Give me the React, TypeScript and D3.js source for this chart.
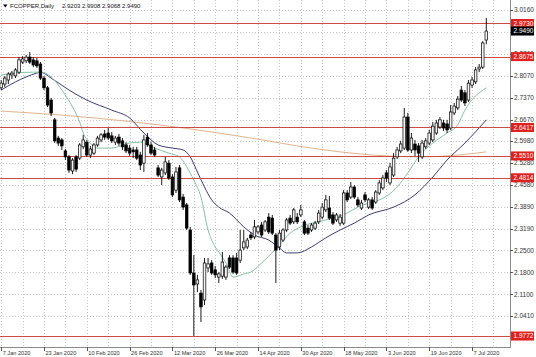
import React from "react";
import * as d3 from "d3";

const W = 536;
const H = 357;

const symbolName = "FCOPPER,Daily";
const ohlcText = ["2.9203", "2.9908", "2.9068", "2.9490"];

// [open, high, low, close] per daily bar, from 7 Jan 2020
const candles: [number, number, number, number][] = [
  [2.768, 2.793, 2.761, 2.783],
  [2.780, 2.806, 2.771, 2.799],
  [2.793, 2.818, 2.780, 2.812],
  [2.809, 2.822, 2.796, 2.815],
  [2.806, 2.831, 2.799, 2.825],
  [2.818, 2.866, 2.812, 2.857],
  [2.850, 2.869, 2.844, 2.860],
  [2.854, 2.873, 2.847, 2.866],
  [2.866, 2.882, 2.844, 2.850],
  [2.857, 2.866, 2.834, 2.841],
  [2.854, 2.863, 2.831, 2.838],
  [2.844, 2.850, 2.793, 2.799],
  [2.799, 2.806, 2.761, 2.768],
  [2.768, 2.774, 2.707, 2.713],
  [2.729, 2.736, 2.678, 2.688],
  [2.666, 2.672, 2.592, 2.599],
  [2.608, 2.615, 2.583, 2.592],
  [2.602, 2.608, 2.570, 2.583],
  [2.567, 2.573, 2.538, 2.548],
  [2.548, 2.554, 2.497, 2.506],
  [2.503, 2.544, 2.493, 2.538],
  [2.548, 2.554, 2.500, 2.509],
  [2.544, 2.592, 2.538, 2.586],
  [2.580, 2.618, 2.573, 2.602],
  [2.595, 2.602, 2.548, 2.554],
  [2.554, 2.583, 2.544, 2.573],
  [2.560, 2.592, 2.554, 2.586],
  [2.586, 2.615, 2.580, 2.608],
  [2.602, 2.624, 2.595, 2.618],
  [2.621, 2.634, 2.602, 2.611],
  [2.624, 2.640, 2.602, 2.608],
  [2.615, 2.627, 2.592, 2.599],
  [2.595, 2.615, 2.586, 2.608],
  [2.611, 2.621, 2.583, 2.592],
  [2.599, 2.608, 2.570, 2.580],
  [2.586, 2.595, 2.560, 2.567],
  [2.576, 2.586, 2.551, 2.560],
  [2.570, 2.580, 2.544, 2.564],
  [2.570, 2.580, 2.538, 2.544],
  [2.554, 2.564, 2.506, 2.522],
  [2.528, 2.618, 2.500, 2.602],
  [2.611, 2.624, 2.580, 2.586],
  [2.586, 2.595, 2.554, 2.560],
  [2.570, 2.580, 2.548, 2.554],
  [2.513, 2.522, 2.484, 2.490],
  [2.484, 2.513, 2.458, 2.506],
  [2.497, 2.548, 2.490, 2.532],
  [2.528, 2.538, 2.474, 2.481],
  [2.484, 2.493, 2.420, 2.427],
  [2.442, 2.516, 2.433, 2.500],
  [2.513, 2.522, 2.404, 2.411],
  [2.420, 2.430, 2.379, 2.388],
  [2.395, 2.401, 2.315, 2.321],
  [2.315, 2.325, 2.172, 2.178],
  [2.178, 2.235, 1.9772, 2.140],
  [2.143, 2.172, 2.117, 2.156],
  [2.114, 2.124, 2.022, 2.070],
  [2.092, 2.226, 2.076, 2.210],
  [2.194, 2.226, 2.181, 2.207],
  [2.210, 2.219, 2.172, 2.178],
  [2.188, 2.200, 2.162, 2.172],
  [2.165, 2.181, 2.146, 2.175],
  [2.168, 2.245, 2.159, 2.213],
  [2.165, 2.203, 2.156, 2.197],
  [2.226, 2.235, 2.191, 2.197],
  [2.226, 2.235, 2.175, 2.181],
  [2.226, 2.242, 2.172, 2.178],
  [2.219, 2.315, 2.210, 2.251],
  [2.258, 2.315, 2.251, 2.277],
  [2.261, 2.290, 2.254, 2.283],
  [2.299, 2.309, 2.283, 2.290],
  [2.293, 2.347, 2.286, 2.325],
  [2.309, 2.331, 2.302, 2.325],
  [2.331, 2.341, 2.293, 2.299],
  [2.315, 2.347, 2.309, 2.341],
  [2.356, 2.369, 2.302, 2.309],
  [2.353, 2.363, 2.299, 2.305],
  [2.299, 2.305, 2.146, 2.251],
  [2.261, 2.315, 2.251, 2.305],
  [2.283, 2.321, 2.277, 2.315],
  [2.315, 2.353, 2.309, 2.347],
  [2.353, 2.363, 2.331, 2.337],
  [2.341, 2.385, 2.334, 2.379],
  [2.356, 2.369, 2.334, 2.341],
  [2.363, 2.395, 2.356, 2.379],
  [2.341, 2.347, 2.299, 2.305],
  [2.321, 2.331, 2.299, 2.305],
  [2.315, 2.337, 2.309, 2.331],
  [2.321, 2.344, 2.315, 2.337],
  [2.341, 2.379, 2.334, 2.369],
  [2.356, 2.401, 2.350, 2.388],
  [2.379, 2.427, 2.372, 2.411],
  [2.385, 2.423, 2.347, 2.353],
  [2.363, 2.372, 2.331, 2.337],
  [2.347, 2.369, 2.341, 2.363],
  [2.337, 2.366, 2.328, 2.356],
  [2.337, 2.442, 2.331, 2.433],
  [2.433, 2.442, 2.404, 2.411],
  [2.420, 2.468, 2.414, 2.452],
  [2.452, 2.458, 2.414, 2.420],
  [2.411, 2.420, 2.388, 2.395],
  [2.385, 2.411, 2.379, 2.401],
  [2.427, 2.436, 2.404, 2.411],
  [2.388, 2.417, 2.382, 2.411],
  [2.411, 2.420, 2.379, 2.385],
  [2.404, 2.442, 2.398, 2.436],
  [2.433, 2.474, 2.427, 2.465],
  [2.449, 2.490, 2.442, 2.481],
  [2.497, 2.506, 2.468, 2.481],
  [2.465, 2.529, 2.458, 2.516],
  [2.490, 2.560, 2.484, 2.544],
  [2.548, 2.580, 2.541, 2.570],
  [2.567, 2.599, 2.560, 2.589],
  [2.576, 2.704, 2.570, 2.675],
  [2.675, 2.688, 2.564, 2.570],
  [2.570, 2.624, 2.560, 2.608],
  [2.589, 2.602, 2.551, 2.570],
  [2.583, 2.592, 2.532, 2.560],
  [2.548, 2.602, 2.541, 2.592],
  [2.580, 2.608, 2.573, 2.599],
  [2.592, 2.634, 2.586, 2.624],
  [2.602, 2.659, 2.595, 2.646],
  [2.624, 2.666, 2.618, 2.656],
  [2.643, 2.675, 2.637, 2.666],
  [2.656, 2.666, 2.631, 2.640],
  [2.653, 2.666, 2.624, 2.634],
  [2.640, 2.713, 2.634, 2.691],
  [2.688, 2.720, 2.681, 2.710],
  [2.704, 2.742, 2.697, 2.732],
  [2.761, 2.774, 2.723, 2.729],
  [2.752, 2.761, 2.710, 2.720],
  [2.729, 2.793, 2.723, 2.783],
  [2.777, 2.803, 2.768, 2.793],
  [2.787, 2.834, 2.780, 2.825],
  [2.828, 2.844, 2.818, 2.834],
  [2.834, 2.917, 2.828, 2.911],
  [2.9203, 2.9908, 2.9068, 2.9490],
];

// moving averages: [bar index, price]
const maFast: [number, number][] = [
  [0, 2.809], [4, 2.815], [9, 2.818], [11, 2.818], [14, 2.803], [17, 2.761],
  [20, 2.707], [22, 2.659], [23, 2.624], [25, 2.592], [27, 2.576], [31, 2.576],
  [36, 2.592], [39, 2.595], [43, 2.576], [47, 2.560], [50, 2.548], [52, 2.516],
  [54, 2.474], [56, 2.420], [58, 2.315], [60, 2.261], [61, 2.245], [63, 2.210],
  [65, 2.165], [68, 2.175], [70, 2.181], [73, 2.210], [78, 2.267], [81, 2.305],
  [84, 2.325], [91, 2.347], [97, 2.369], [100, 2.388], [104, 2.404], [106, 2.411],
  [111, 2.452], [114, 2.497], [117, 2.548], [121, 2.592], [125, 2.624],
  [128, 2.650], [130, 2.697], [136, 2.768],
];
const maSlow: [number, number][] = [
  [0, 2.761], [4, 2.787], [10, 2.815], [11, 2.818], [14, 2.799], [19, 2.761],
  [24, 2.729], [31, 2.697], [36, 2.672], [40, 2.624], [44, 2.586], [48, 2.576],
  [51, 2.570], [53, 2.548], [55, 2.500], [57, 2.452], [59, 2.411], [61, 2.388],
  [64, 2.369], [68, 2.325], [71, 2.299], [75, 2.283], [78, 2.258], [80, 2.242],
  [83, 2.242], [87, 2.261], [91, 2.290], [95, 2.315], [99, 2.337], [103, 2.363],
  [110, 2.388], [116, 2.427], [121, 2.484], [125, 2.538], [130, 2.592], [136, 2.666],
];
const maLong: [number, number][] = [
  [0, 2.694], [17, 2.681], [35, 2.662], [53, 2.637], [70, 2.608], [87, 2.576],
  [104, 2.554], [118, 2.548], [125, 2.551], [136, 2.564],
];

const priceTicks = [3.016, 2.946, 2.876, 2.807, 2.737, 2.667, 2.598, 2.528, 2.458, 2.389, 2.319, 2.25, 2.18, 2.11, 2.041];
const levels = [2.973, 2.8675, 2.6417, 2.551, 2.4814, 1.9772];
const lastPrice = 2.949;

const dateLabels = ["7 Jan 2020", "23 Jan 2020", "10 Feb 2020", "26 Feb 2020", "12 Mar 2020", "26 Mar 2020", "14 Apr 2020", "30 Apr 2020", "18 May 2020", "3 Jun 2020", "19 Jun 2020", "7 Jul 2020"];
const dateLabelStep = 12;
const gridStep = 6;

const FONT = "'Liberation Sans', Arial, sans-serif";

export default function App() {
  const plotRight = 510;
  const plotBottom = 347;
  const barStep = 3.567;
  const x = d3.scaleLinear().domain([0, 136]).range([1.2, 1.2 + barStep * 136]);
  const y = d3.scaleLinear().domain([3.016, 2.041]).range([10, 316]);

  const lineGen = d3
    .line<[number, number]>()
    .x((d) => x(d[0]))
    .y((d) => y(d[1]))
    .curve(d3.curveMonotoneX);

  const gridIdx = d3.range(0, 140, gridStep);
  const bw = 2.6;
  const crisp = (v: number) => Math.round(v) + 0.5;

  return (
    <svg
      width={W}
      height={H}
      style={{ position: "absolute", left: 0, top: 0, background: "#fff" }}
      fontFamily={FONT}
    >
      <defs>
        <clipPath id="plot">
          <rect x={0} y={0} width={plotRight} height={plotBottom} />
        </clipPath>
      </defs>
      <rect x={0} y={0} width={W} height={H} fill="#fff" />
      {/* grid */}
      <g stroke="#c4c4c4" strokeWidth={1} strokeDasharray="1,2" shapeRendering="crispEdges">
        {priceTicks.map((p) => (
          <line key={"h" + p} x1={0} x2={plotRight} y1={crisp(y(p))} y2={crisp(y(p))} />
        ))}
        {gridIdx.map((i) => (
          <line key={"v" + i} x1={crisp(x(i))} x2={crisp(x(i))} y1={0} y2={plotBottom} />
        ))}
      </g>
      <g clipPath="url(#plot)">
        {/* moving averages */}
        <path d={lineGen(maLong) || ""} fill="none" stroke="#e2b48a" strokeWidth={1} />
        <path d={lineGen(maSlow) || ""} fill="none" stroke="#3a3d72" strokeWidth={1} />
        <path d={lineGen(maFast) || ""} fill="none" stroke="#86c2a2" strokeWidth={1} />
        {/* level lines */}
        {levels.map((l) => (
          <line
            key={"l" + l}
            x1={0}
            x2={plotRight}
            y1={crisp(y(l))}
            y2={crisp(y(l))}
            stroke="#cc4a42"
            strokeWidth={1}
            shapeRendering="crispEdges"
          />
        ))}
        {/* candles */}
        {candles.map(([o, h, l, c], i) => {
          const xc = x(i);
          const bull = c >= o;
          const top = y(Math.max(o, c));
          const bot = y(Math.min(o, c));
          return (
            <g key={"c" + i}>
              <line x1={xc} x2={xc} y1={y(h)} y2={y(l)} stroke="#000" strokeWidth={0.9} />
              <rect
                x={xc - bw / 2}
                y={top}
                width={bw}
                height={Math.max(bot - top, 0.8)}
                fill={bull ? "#f4f4f4" : "#000"}
                stroke="#000"
                strokeWidth={0.7}
              />
            </g>
          );
        })}
      </g>
      {/* frame */}
      <line x1={plotRight + 0.5} x2={plotRight + 0.5} y1={0} y2={plotBottom + 1} stroke="#8a8a8a" strokeWidth={1} />
      <line x1={0} x2={plotRight + 1} y1={plotBottom + 0.5} y2={plotBottom + 0.5} stroke="#8a8a8a" strokeWidth={1} />
      {/* price axis */}
      {priceTicks.map((p) => (
        <g key={"t" + p}>
          <line x1={plotRight} x2={plotRight + 3} y1={crisp(y(p))} y2={crisp(y(p))} stroke="#555" />
          <text x={514} y={y(p)} dy="0.35em" fontSize={6.5} fill="#333">
            {p.toFixed(4)}
          </text>
        </g>
      ))}
      {levels.map((l) => (
        <g key={"ll" + l}>
          <rect x={511} y={y(l) - 4.5} width={23} height={9} fill="#e0201c" />
          <text x={513.5} y={y(l)} dy="0.35em" fontSize={6.5} fill="#fff">
            {l.toFixed(4)}
          </text>
        </g>
      ))}
      <rect x={511} y={y(lastPrice) - 4.5} width={23} height={9} fill="#000" />
      <text x={513.5} y={y(lastPrice)} dy="0.35em" fontSize={6.5} fill="#fff">
        {lastPrice.toFixed(4)}
      </text>
      {/* date axis */}
      {dateLabels.map((d, k) => {
        const xi = x(k * dateLabelStep);
        return (
          <g key={"d" + k}>
            <line x1={crisp(xi)} x2={crisp(xi)} y1={plotBottom} y2={plotBottom + 4} stroke="#555" />
            <text x={xi + 1.5} y={354.5} fontSize={5.6} fill="#333">
              {d}
            </text>
          </g>
        );
      })}
      {/* title */}
      <path d="M3,4.5 L7.5,4.5 L5.25,7.5 Z" fill="#000" />
      <text x={10} y={8.3} fontSize={6} fill="#111">
        {symbolName}
      </text>
      <text x={62} y={8.3} fontSize={6} fill="#111">
        {ohlcText.join(" ")}
      </text>
    </svg>
  );
}
